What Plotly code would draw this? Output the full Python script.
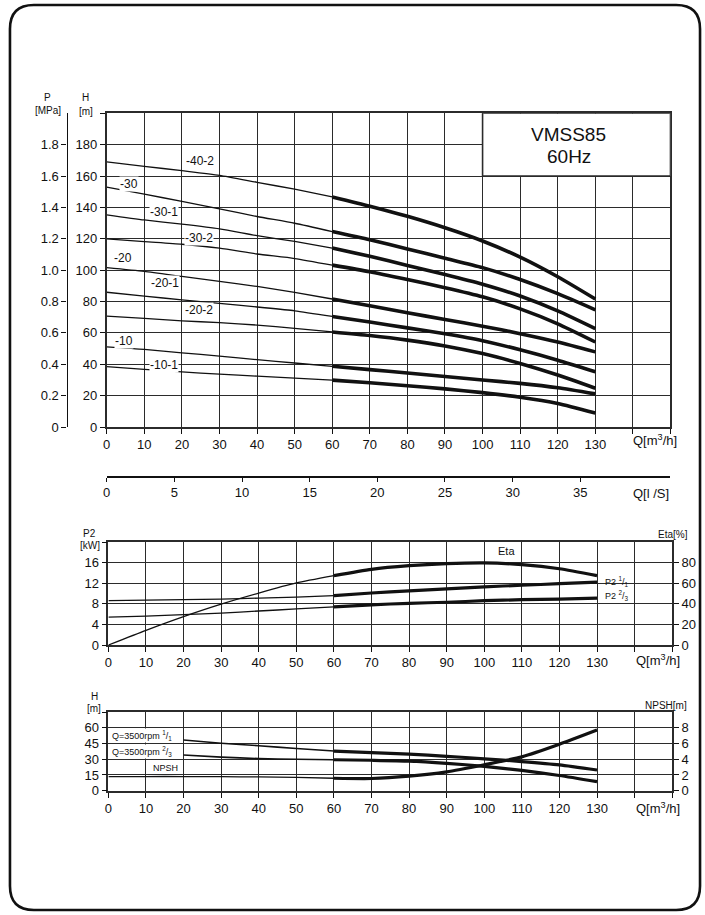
import plotly.graph_objects as go

W, H = 705, 915          # reference picture size (positions below are in its pixels)
FIG_H = 923              # figure height used for the page

# ---------------- data ----------------
Q = [0, 10, 20, 30, 40, 50, 60, 70, 80, 90, 100, 110, 120, 130]

curve_names = ["-40-2", "-30", "-30-1", "-30-2", "-20", "-20-1", "-20-2", "-10", "-10-1"]
h_40_2 = [169, 166.2, 163.4, 160.4, 156.0, 151.6, 146.7, 140.8, 134.3, 127.0, 118.6, 108.3, 95.8, 81.6]
h_30 = [153, 148.5, 143.8, 139.1, 134.2, 129.9, 124.6, 119.4, 113.5, 107.6, 101.6, 94.0, 85.0, 74.7]
h_30_1 = [135.3, 132.0, 129.3, 126.3, 122.0, 118.3, 114.1, 108.8, 103.0, 97.2, 91.0, 83.5, 74.0, 62.7]
h_30_2 = [120.0, 118.2, 116.5, 114.0, 110.3, 107.4, 103.2, 99.0, 94.0, 88.8, 83.0, 75.3, 65.8, 54.2]
h_20 = [101.6, 99.2, 96.0, 92.8, 89.6, 85.8, 81.6, 77.3, 72.8, 68.6, 64.3, 59.5, 54.2, 47.9]
h_20_1 = [85.9, 83.5, 81.0, 78.8, 76.5, 74.1, 70.5, 66.9, 63.2, 59.4, 55.0, 49.2, 42.6, 35.2]
h_20_2 = [70.7, 69.3, 67.7, 66.5, 65.0, 62.9, 60.6, 58.3, 55.4, 51.7, 46.8, 40.5, 33.1, 24.7]
h_10 = [51.1, 49.5, 47.3, 45.2, 42.9, 40.8, 38.7, 36.6, 34.4, 32.2, 30.0, 27.8, 25.0, 21.1]
h_10_1 = [38.5, 36.7, 35.1, 33.7, 32.4, 31.2, 29.9, 28.2, 26.3, 24.3, 21.9, 19.0, 15.0, 8.9]
head_curves = [h_40_2, h_30, h_30_1, h_30_2, h_20, h_20_1, h_20_2, h_10, h_10_1]

q_tick_vals = [0, 10, 20, 30, 40, 50, 60, 70, 80, 90, 100, 110, 120, 130, 140, 150]
q_tick_text = ["0", "10", "20", "30", "40", "50", "60", "70", "80", "90", "100", "110", "120", "130", "", ""]
h_tick_vals = [0, 20, 40, 60, 80, 100, 120, 140, 160, 180, 200]
h_tick_text = ["0", "20", "40", "60", "80", "100", "120", "140", "160", "180", ""]
p_tick_vals = [0, 0.2, 0.4, 0.6, 0.8, 1.0, 1.2, 1.4, 1.6, 1.8]
p_tick_text = ["0", "0.2", "0.4", "0.6", "0.8", "1.0", "1.2", "1.4", "1.6", "1.8"]
ls_tick_vals = [0, 5, 10, 15, 20, 25, 30, 35]

eta = [0, 14.3, 27.6, 39.7, 50.4, 60.2, 67.3, 73.5, 77.0, 79.0, 79.7, 78.0, 74.0, 67.3]
p2_full = [8.6, 8.7, 8.8, 8.9, 9.1, 9.3, 9.6, 10.1, 10.5, 10.9, 11.3, 11.6, 11.9, 12.2]
p2_23 = [5.4, 5.6, 5.9, 6.2, 6.6, 7.0, 7.4, 7.8, 8.1, 8.3, 8.6, 8.8, 8.9, 9.1]
p2_tick_vals = [0, 4, 8, 12, 16, 20]
p2_tick_text = ["0", "4", "8", "12", "16", ""]
eta_tick_vals = [0, 20, 40, 60, 80]

Q_b = [20, 30, 40, 50, 60, 70, 80, 90, 100, 110, 120, 130]
h_rpm_full = [48.3, 45.2, 42.9, 40.2, 37.8, 36.2, 34.8, 32.8, 30.4, 27.8, 24.6, 19.7]
h_rpm_23 = [34.0, 32.0, 30.6, 30.0, 29.5, 29.0, 28.2, 26.1, 23.2, 19.3, 14.5, 8.6]
npsh = [1.8, 1.8, 1.8, 1.78, 1.75, 1.7, 1.58, 1.55, 1.85, 2.4, 3.3, 4.3, 5.9, 7.7]
hb_tick_vals = [0, 15, 30, 45, 60, 75]
hb_tick_text = ["0", "15", "30", "45", "60", ""]
npsh_tick_vals = [0, 2, 4, 6, 8]

# ---------------- figure ----------------
FONT = "Liberation Sans, Arial, sans-serif"
INK = "#111111"
GRID = "#2b2b2b"
THIN = 1.3
THICK = 3.6

def px(x):
    return x / W

def py(y):
    return 1 - y / H

fig = go.Figure()

def split_curve(xs, ys, xaxis, yaxis, thin=THIN, thick=THICK):
    k = xs.index(60)
    fig.add_trace(go.Scatter(x=xs[:k + 1], y=ys[:k + 1], mode="lines", xaxis=xaxis, yaxis=yaxis,
                             line=dict(color=INK, width=thin, shape="spline", smoothing=0.6),
                             hoverinfo="skip", showlegend=False))
    fig.add_trace(go.Scatter(x=xs[k:], y=ys[k:], mode="lines", xaxis=xaxis, yaxis=yaxis,
                             line=dict(color=INK, width=thick, shape="spline", smoothing=0.6),
                             hoverinfo="skip", showlegend=False))

for hc in head_curves:
    split_curve(Q, hc, "x", "y")

# dummy traces to register the l/s axis and the P axis
fig.add_trace(go.Scatter(x=[0, 41.6667], y=[None, None], xaxis="x2", yaxis="y", mode="lines",
                         showlegend=False, hoverinfo="skip"))
fig.add_trace(go.Scatter(x=[None], y=[None], xaxis="x", yaxis="y2", mode="lines",
                         showlegend=False, hoverinfo="skip"))

split_curve(Q, eta, "x3", "y4", thick=3.2)
split_curve(Q, p2_full, "x3", "y3", thick=3.2)
split_curve(Q, p2_23, "x3", "y3", thick=3.2)

for hb in (h_rpm_full, h_rpm_23):
    fig.add_trace(go.Scatter(x=Q_b[:5], y=hb[:5], mode="lines", xaxis="x4", yaxis="y5",
                             line=dict(color=INK, width=1.6, shape="spline", smoothing=0.6),
                             showlegend=False, hoverinfo="skip"))
    fig.add_trace(go.Scatter(x=Q_b[4:], y=hb[4:], mode="lines", xaxis="x4", yaxis="y5",
                             line=dict(color=INK, width=3.2, shape="spline", smoothing=0.6),
                             showlegend=False, hoverinfo="skip"))
split_curve(Q, npsh, "x4", "y6", thick=3.2)

tickfont = dict(family=FONT, size=13, color=INK)
axis_common = dict(showgrid=True, gridcolor=GRID, gridwidth=1.4, zeroline=False,
                   showline=True, linecolor=GRID, linewidth=1.6, mirror=True,
                   ticks="outside", ticklen=5, tickwidth=1.2, tickcolor=INK,
                   tickfont=tickfont, fixedrange=True)

top_dom_x = [px(103.3), px(670.3)]
low_dom_x = [px(105), px(672)]

fig.update_layout(
    width=W, height=FIG_H, margin=dict(l=0, r=0, t=0, b=0), autosize=False,
    paper_bgcolor="white", plot_bgcolor="rgba(0,0,0,0)", showlegend=False,
    font=dict(family=FONT, size=13, color=INK),
    xaxis=dict(axis_common, domain=top_dom_x, range=[0, 150], anchor="y",
               tickmode="array", tickvals=q_tick_vals, ticktext=q_tick_text),
    yaxis=dict(axis_common, domain=[py(427), py(113.3)], range=[0, 200], anchor="x",
               tickmode="array", tickvals=h_tick_vals, ticktext=h_tick_text),
    yaxis2=dict(overlaying="y", anchor="free", position=px(63), side="left", range=[0, 2.0],
                showgrid=False, zeroline=False, showline=True, linecolor=INK, linewidth=1.4,
                ticks="outside", ticklen=5, tickcolor=INK, tickmode="array",
                tickvals=p_tick_vals, ticktext=p_tick_text, tickfont=tickfont, fixedrange=True),
    xaxis2=dict(overlaying="x", anchor="free", position=py(477), range=[0, 150 / 3.6],
                showgrid=False, zeroline=False, showline=True, linecolor=INK, linewidth=1.6,
                ticks="outside", ticklen=4, tickcolor=INK, tickmode="array", tickvals=ls_tick_vals,
                tickfont=tickfont, fixedrange=True),
    xaxis3=dict(axis_common, domain=low_dom_x, range=[0, 150], anchor="y3",
                tickmode="array", tickvals=q_tick_vals, ticktext=q_tick_text),
    yaxis3=dict(axis_common, domain=[py(645), py(542)], range=[0, 20], anchor="x3",
                tickmode="array", tickvals=p2_tick_vals, ticktext=p2_tick_text),
    yaxis4=dict(overlaying="y3", anchor="x3", side="right", range=[0, 100],
                showgrid=False, zeroline=False, showline=True, linecolor=GRID, linewidth=1.6,
                ticks="outside", ticklen=5, tickcolor=INK, tickmode="array", tickvals=eta_tick_vals,
                tickfont=tickfont, fixedrange=True),
    xaxis4=dict(axis_common, domain=low_dom_x, range=[0, 150], anchor="y5",
                tickmode="array", tickvals=q_tick_vals, ticktext=q_tick_text),
    yaxis5=dict(axis_common, domain=[py(790.7), py(712)], range=[0, 75], anchor="x4",
                tickmode="array", tickvals=hb_tick_vals, ticktext=hb_tick_text),
    yaxis6=dict(overlaying="y5", anchor="x4", side="right", range=[0, 10],
                showgrid=False, zeroline=False, showline=True, linecolor=GRID, linewidth=1.6,
                ticks="outside", ticklen=5, tickcolor=INK, tickmode="array", tickvals=npsh_tick_vals,
                tickfont=tickfont, fixedrange=True),
)

# title box in top chart
fig.add_shape(type="rect", xref="x", yref="y", x0=100, x1=150, y0=160, y1=200,
              fillcolor="white", line=dict(color=GRID, width=1.6), layer="above")

ann = []

def note(x, y, text, size=13, xanchor="center", xref="paper", yref="paper", bg=None):
    d = dict(x=x, y=y, xref=xref, yref=yref, text=text, showarrow=False, xanchor=xanchor,
             yanchor="middle", font=dict(family=FONT, size=size, color=INK))
    if bg:
        d["bgcolor"] = bg
        d["borderpad"] = 0
    ann.append(d)

note(px(568), py(134), "VMSS85", size=19)
note(px(568), py(156), "60Hz", size=19)

# curve labels (top chart)
label_pos = [(24.8, 169.5), (5.8, 155), (15.2, 137), (24.5, 120.8), (4.3, 108),
             (15.6, 91.5), (24.6, 74.5), (4.5, 55), (15.2, 39.6)]
for name, (lx, ly) in zip(curve_names, label_pos):
    note(lx, ly, name, size=12, xref="x", yref="y", bg="white")

# axis titles
note(px(44), py(98), "P", size=10)
note(px(44), py(110), "[MPa]", size=10)
note(px(82), py(98), "H", size=10)
note(px(82), py(111), "[m]", size=10)
note(px(655), py(440), "Q[m<sup>3</sup>/h]", size=13)
note(px(651), py(493), "Q[l /S]", size=13)

note(px(86), py(533), "P2", size=10)
note(px(86), py(545), "[kW]", size=10)
note(px(673), py(534), "Eta[%]", size=10)
note(px(658), py(660), "Q[m<sup>3</sup>/h]", size=13)
note(106, 18.2, "Eta", size=11, xref="x3", yref="y3", bg="white")
note(131.5, 12.3, "P2 <sup>1</sup>/<sub>1</sub>", size=9, xanchor="left", xref="x3", yref="y3")
note(131.5, 9.6, "P2 <sup>2</sup>/<sub>3</sub>", size=9, xanchor="left", xref="x3", yref="y3")

note(px(91), py(696), "H", size=10)
note(px(91), py(708), "[m]", size=10)
note(px(666), py(705), "NPSH[m]", size=10)
note(px(658), py(808), "Q[m<sup>3</sup>/h]", size=13)
note(0.8, 52.5, "Q=3500rpm <sup>1</sup>/<sub>1</sub>", size=9, xanchor="left", xref="x4", yref="y5", bg="white")
note(0.8, 37.5, "Q=3500rpm <sup>2</sup>/<sub>3</sub>", size=9, xanchor="left", xref="x4", yref="y5", bg="white")
note(11.5, 21.5, "NPSH", size=9, xanchor="left", xref="x4", yref="y5", bg="white")

fig.update_layout(annotations=ann)

# rounded page frame
x0, x1 = px(6), px(700)
yt, yb = py(5), py(910)
rx, ry = 24 / W, 24 / H
path = (f"M {x0+rx},{yt} L {x1-rx},{yt} Q {x1},{yt} {x1},{yt-ry} L {x1},{yb+ry} "
        f"Q {x1},{yb} {x1-rx},{yb} L {x0+rx},{yb} Q {x0},{yb} {x0},{yb+ry} "
        f"L {x0},{yt-ry} Q {x0},{yt} {x0+rx},{yt} Z")
fig.add_shape(type="path", xref="paper", yref="paper", path=path,
              line=dict(color=INK, width=2.6), fillcolor="rgba(0,0,0,0)", layer="above")

page_fix = (
    "document.documentElement.style.margin='0';"
    "document.documentElement.style.padding='0';"
    "document.documentElement.style.overflow='hidden';"
    "document.body.style.margin='0';"
    "document.body.style.padding='0';"
    "document.body.style.overflow='hidden';"
    "document.querySelectorAll('.plotly-graph-div').forEach(function(d){d.style.display='block';});"
)
fig.write_html("out.html", config={"displayModeBar": False}, post_script=page_fix)
